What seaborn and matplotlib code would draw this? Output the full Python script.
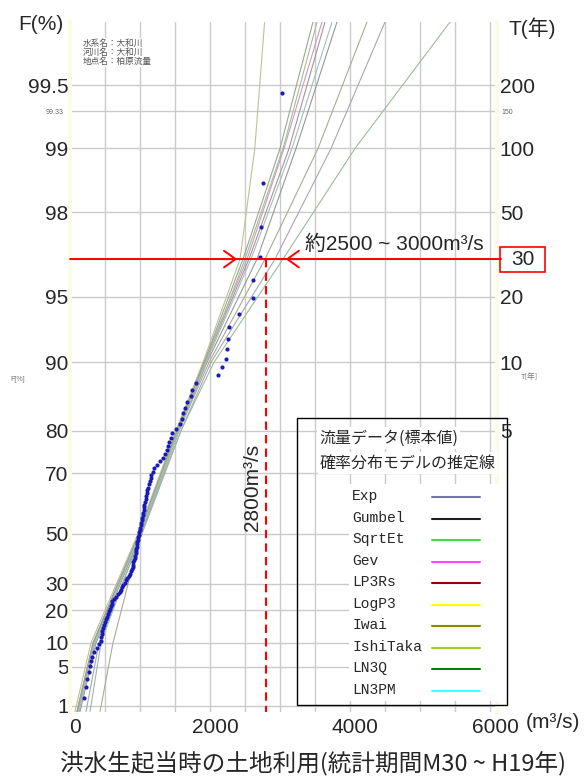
import numpy as np
import pandas as pd
import matplotlib
matplotlib.use("Agg")
import matplotlib.pyplot as plt
import matplotlib.colors as mcolors
from matplotlib.patches import Rectangle
from matplotlib.transforms import ScaledTranslation
import seaborn as sns

# ---- sample: flood peak discharge at Kashiwara (m3/s), ascending order ----
discharge = [
    150, 200, 229, 243, 271, 286, 296, 314, 336, 379,
    414, 436, 443, 453, 464, 471, 486, 500, 514, 529,
    543, 557, 571, 579, 593, 607, 629, 657, 686, 714,
    729, 743, 757, 779, 793, 814, 836, 850, 871, 886,
    893, 900, 907, 914, 929, 933, 937, 943, 949, 954,
    957, 964, 971, 977, 983, 989, 997, 1004, 1011, 1019,
    1024, 1031, 1039, 1046, 1051, 1057, 1063, 1071, 1080, 1086,
    1096, 1104, 1114, 1124, 1137, 1150, 1164, 1179, 1200, 1236,
    1286, 1329, 1364, 1386, 1393, 1414, 1443, 1464, 1514, 1571,
    1593, 1614, 1643, 1667, 1724, 1739, 1800, 2119, 2167, 2229,
    2243, 2261, 2271, 2419, 2610, 2619, 2714, 2729, 2757, 3029,
]

# ---- estimated quantile lines of each probability model ----
model_levels = [0.75, 10, 50, 80, 90, 96.667, 99, 99.75]   # non-exceedance (%)
model_names = ["Exp", "Gumbel", "SqrtEt", "Gev", "LP3Rs",
               "LogP3", "Iwai", "IshiTaka", "LN3Q", "LN3PM"]
model_colors = ["#7373b8", "#1e1e1e", "#3ee03e", "#ff46ff", "#960000",
                "#ffff00", "#8a8a00", "#a6d21e", "#008000", "#46ffff"]
q_exp      = [229, 414, 1029, 1586, 2014, 2929, 3729, 4500]
q_gumbel   = [143, 371, 1014, 1557, 1957, 2671, 3229, 3814]
q_sqrtet   = [286, 443, 1014, 1586, 2057, 3043, 4071, 5429]
q_gev      = [114, 343, 986, 1529, 1914, 2529, 3057, 3600]
q_lp3rs    = [100, 329, 986, 1529, 1929, 2557, 3129, 3643]
q_logp3    = [71, 300, 971, 1514, 1900, 2429, 2640, 2780]
q_iwai     = [429, 614, 1014, 1557, 1986, 2786, 3543, 4243]
q_ishitaka = [129, 357, 1000, 1543, 1943, 2500, 3043, 3529]
q_ln3q     = [100, 329, 986, 1529, 1914, 2471, 3000, 3471]
q_ln3pm    = [129, 357, 1000, 1557, 1943, 2586, 3171, 3743]
model_quantiles = [q_exp, q_gumbel, q_sqrtet, q_gev, q_lp3rs,
                   q_logp3, q_iwai, q_ishitaka, q_ln3q, q_ln3pm]

# ---- axis ticks ----
f_ticks = [1, 5, 10, 20, 30, 50, 70, 80, 90, 95, 98, 99, 99.5]
f_labels = ["1", "5", "10", "20", "30", "50", "70", "80", "90", "95", "98", "99", "99.5"]
t_ticks = [80, 90, 95, 98, 99, 99.5]
t_labels = ["5", "10", "20", "50", "100", "200"]
grid_levels = [1, 5, 10, 20, 30, 50, 70, 80, 90, 95, 96.667, 98, 99, 99.333, 99.5]
x_ticks = [0, 2000, 4000, 6000]
design_F = 96.667           # T = 30 years
design_Q = 2800
range_Q = [2430, 3040]

# ---- Gumbel probability paper ----
def fwd(p):
    p = np.clip(np.asarray(p, dtype=float), 1e-9, 100 - 1e-9)
    return -np.log(-np.log(p / 100.0))

def inv(u):
    return 100.0 * np.exp(-np.exp(-np.asarray(u, dtype=float)))

sns.set_theme(style="white")
plt.rcParams["font.family"] = ["Liberation Sans", "Noto Sans CJK JP"]
CJK = ["Noto Sans CJK JP", "Liberation Sans"]

W, H = 585, 778
fig = plt.figure(figsize=(W / 100, H / 100), dpi=100)
AX_L, AX_R, AX_T, AX_B = 70, 497, 22, 712
ax = fig.add_axes([AX_L / W, 1 - AX_B / H, (AX_R - AX_L) / W, (AX_B - AX_T) / H])

def axp(px, py):
    return ((px - AX_L) / (AX_R - AX_L), 1 - (py - AX_T) / (AX_B - AX_T))

def figp(px, py):
    return (px / W, 1 - py / H)

ax.set_yscale("function", functions=(fwd, inv))
ax.set_ylim(0.73, 99.75)
ax.set_xlim(0, 6100)

# plotting positions (Cunnane)
n = len(discharge)
rank = np.arange(1, n + 1)
plot_pos = (rank - 0.4) / (n + 0.2) * 100

# model lines, drawn pale
grey = np.array(mcolors.to_rgb("#b2b2b2"))
rows = []
for name, qs in zip(model_names, model_quantiles):
    for q, f in zip(qs, model_levels):
        rows.append({"model": name, "Q": q, "F": f})
lines_df = pd.DataFrame(rows)
palette = {nm: tuple(0.18 * np.array(mcolors.to_rgb(c)) + 0.82 * grey)
           for nm, c in zip(model_names, model_colors)}
sns.lineplot(data=lines_df, x="Q", y="F", hue="model", palette=palette,
             estimator=None, sort=False, linewidth=0.8, legend=False,
             ax=ax, zorder=3)

# sample points
sns.scatterplot(x=discharge, y=plot_pos, ax=ax, color="#1a1ab4", s=9,
                linewidth=0, zorder=5)

ax.set_xlabel("")
ax.set_ylabel("")
ax.set_xticks(x_ticks)
ax.set_xticklabels([str(v) for v in x_ticks])
ax.set_xticks(np.arange(0, 6001, 500), minor=True)
ax.set_yticks(f_ticks)
ax.set_yticklabels(f_labels)
ax.set_yticks(grid_levels, minor=True)
ax.grid(True, which="both", color="#cbcbcb", linewidth=1.0, zorder=0)
ax.set_axisbelow(True)
ax.tick_params(axis="both", which="both", length=0, labelsize=15)
ax.tick_params(axis="y", pad=1)
ax.tick_params(axis="x", pad=4)
shift = ScaledTranslation(5 / 100, 0, fig.dpi_scale_trans)
for lab in ax.get_xticklabels():
    lab.set_transform(lab.get_transform() + shift)
for s in ["top", "bottom"]:
    ax.spines[s].set_visible(False)
for s in ["left", "right"]:
    ax.spines[s].set_color("#fbfbe8")
    ax.spines[s].set_linewidth(3)

# return period axis
ax2 = ax.twinx()
ax2.set_yscale("function", functions=(fwd, inv))
ax2.set_ylim(ax.get_ylim())
ax2.set_yticks(t_ticks)
ax2.set_yticklabels(t_labels)
ax2.tick_params(axis="y", length=0, labelsize=15, pad=2)
for s in ax2.spines.values():
    s.set_visible(False)
ax2.grid(False)

# small secondary labels
ax.text(*axp(64, 113), "99.33", transform=ax.transAxes, ha="right", va="center",
        fontsize=5, color="#666666")
ax.text(*axp(501, 113), "150", transform=ax.transAxes, ha="left", va="center",
        fontsize=5, color="#666666", clip_on=False)
fig.text(*figp(10, 380), "F[%]", ha="left", va="center", fontsize=5, color="#777777")
fig.text(*figp(521, 377), "T[年]", ha="left", va="center", fontsize=5.5,
         color="#777777", family=CJK)

# axis titles
fig.text(*figp(41, 25), "F(%)", ha="center", va="center", fontsize=15)
fig.text(*figp(532, 28), "T(年)", ha="center", va="center", fontsize=15)
fig.text(*figp(553, 722), "(m³/s)", ha="center", va="center", fontsize=15)
fig.text(*figp(313, 763), "洪水生起当時の土地利用(統計期間M30 ~ H19年)",
         ha="center", va="center", fontsize=17, family=CJK)

# station info
ax.text(*axp(83, 39), "水系名：大和川\n河川名：大和川\n地点名：柏原流量",
        transform=ax.transAxes, ha="left", va="top", fontsize=6.2,
        color="#555555", family=CJK, linespacing=1.0, zorder=6,
        bbox=dict(fc="white", ec="none", pad=1))

# design flood annotation
ax.plot([0, 6150], [design_F, design_F], color="red", lw=1.4,
        clip_on=False, zorder=8)
ax.annotate("", xy=(range_Q[0], design_F), xytext=(range_Q[0] - 300, design_F),
            arrowprops=dict(arrowstyle="->,head_length=0.7,head_width=0.5",
                            color="red", lw=1.4), zorder=8)
ax.annotate("", xy=(range_Q[1], design_F), xytext=(range_Q[1] + 300, design_F),
            arrowprops=dict(arrowstyle="->,head_length=0.7,head_width=0.5",
                            color="red", lw=1.4), zorder=8)
ax.text(3360, 97.17, "約2500 ~ 3000m³/s", ha="left", va="center", fontsize=15,
        zorder=9)
ax.plot([design_Q, design_Q], [design_F, 0.73], color="red", lw=1.5,
        linestyle=(0, (4, 2.5)), zorder=8)
ax.annotate(f"{design_Q}m³/s", xy=(design_Q, 66), xytext=(-3, 0),
            textcoords="offset points", rotation=90, ha="right", va="center",
            fontsize=15, zorder=9)
fig.patches.append(Rectangle(figp(500, 272), 45 / W, 25 / H,
                             transform=fig.transFigure, fill=False,
                             ec="red", lw=1.2))
fig.text(*figp(522.5, 259.5), "30", ha="center", va="center", fontsize=15)

# legend panel
x0, y0 = axp(297, 705)
x1, y1 = axp(507, 418)
ax.add_patch(Rectangle((x0, y0), x1 - x0, y1 - y0, transform=ax.transAxes,
                       fill=False, ec="black", lw=1.0, clip_on=False, zorder=10))
wx0, wy0 = axp(349, 701)
wx1, wy1 = axp(503, 484)
ax.add_patch(Rectangle((wx0, wy0), wx1 - wx0, wy1 - wy0, transform=ax.transAxes,
                       fc="white", ec="none", clip_on=False, zorder=9))
ax.text(*axp(319, 438), "流量データ(標本値)", transform=ax.transAxes,
        ha="left", va="center", fontsize=11.5, family=CJK, zorder=10,
        bbox=dict(fc="white", ec="none", pad=1.5))
ax.text(*axp(320, 463), "確率分布モデルの推定線", transform=ax.transAxes,
        ha="left", va="center", fontsize=11.5, family=CJK, zorder=10,
        bbox=dict(fc="white", ec="none", pad=1.5))
for j, (nm, c) in enumerate(zip(model_names, model_colors)):
    py = 496 + 21.55 * j
    ax.text(*axp(352, py), nm, transform=ax.transAxes, ha="left", va="center",
            fontsize=10.5, family="Liberation Mono", zorder=11)
    lx0, ly = axp(432, py + 1)
    lx1, _ = axp(480, py + 1)
    ax.plot([lx0, lx1], [ly, ly], transform=ax.transAxes, color=c, lw=1.5,
            clip_on=False, zorder=11)

fig.savefig("out.png", dpi=100, facecolor="white")
